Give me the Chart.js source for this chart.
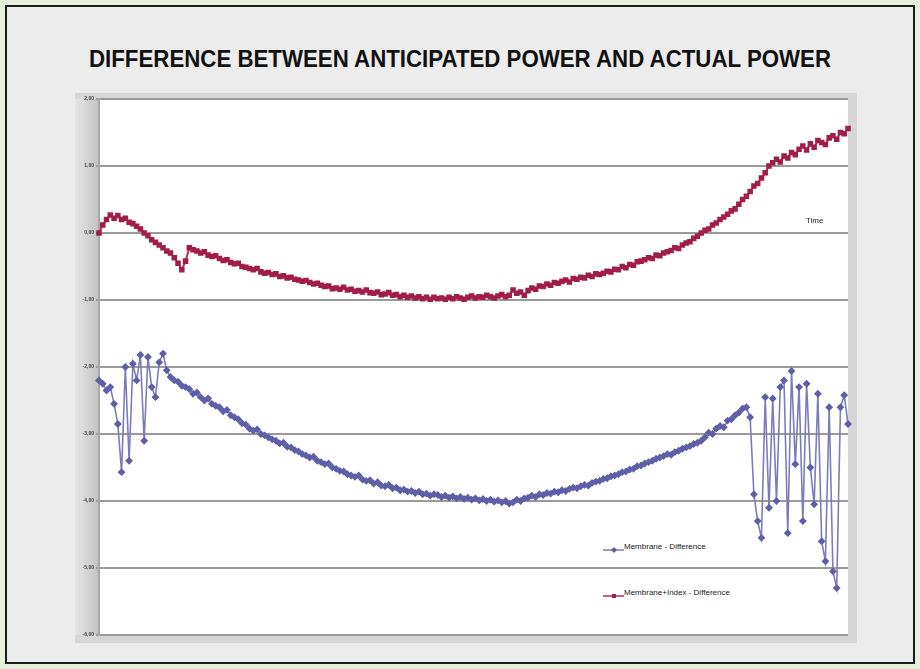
<!DOCTYPE html>
<html>
<head>
<meta charset="utf-8">
<script src="https://cdn.jsdelivr.net/npm/chart.js@4.4.1/dist/chart.umd.min.js"></script>
<style>
  html,body{margin:0;padding:0;background:#e6efd9;}
  #frame{position:absolute;left:5px;top:5px;width:906px;height:655px;border:2px solid #1c1c1c;background:#ececec;}
  #title{position:absolute;left:0;top:45px;width:920px;text-align:center;font-family:"Liberation Sans",Arial,sans-serif;font-weight:bold;font-size:24px;color:#111;white-space:nowrap;}
  #title span{display:inline-block;transform-origin:center;}
  #wrap{position:absolute;left:75px;top:93px;width:782px;height:550px;}
  .lbl{position:absolute;font-family:"Liberation Sans",Arial,sans-serif;font-size:8px;color:#222;white-space:nowrap;}
  .leg{position:absolute;font-family:"Liberation Sans",Arial,sans-serif;font-size:8px;color:#222;white-space:nowrap;background:#fff;padding-right:8px;}
  .sw{position:absolute;}
</style>
</head>
<body>
<div id="frame"></div>
<div id="title"><span id="tspan">DIFFERENCE BETWEEN ANTICIPATED POWER AND ACTUAL POWER</span></div>
<div id="wrap"><canvas id="c" width="782" height="550"></canvas></div>
<div class="lbl" style="left:806px;top:216px;">Time</div>
<canvas class="sw" id="sw1" width="22" height="8" style="left:603px;top:546px;"></canvas>
<div class="leg" style="left:624px;top:542px;">Membrane - Difference</div>
<canvas class="sw" id="sw2" width="22" height="8" style="left:603px;top:592px;"></canvas>
<div class="leg" style="left:624px;top:588px;">Membrane+Index - Difference</div>
<script>
const titleText = "DIFFERENCE BETWEEN ANTICIPATED POWER AND ACTUAL POWER";
const seriesNames = ["Membrane - Difference", "Membrane+Index - Difference"];
const yTickValues = [2, 1, 0, -1, -2, -3, -4, -5, -6];
const yTickLabels = ["2,00", "1,00", "0,00", "-1,00", "-2,00", "-3,00", "-4,00", "-5,00", "-6,00"];

const membraneIndex = [
 0.0,0.12,0.2,0.27,0.22,0.26,0.2,0.22,0.16,0.14,
 0.1,0.06,0.0,-0.04,-0.1,-0.14,-0.18,-0.22,-0.27,-0.3,
 -0.37,-0.45,-0.55,-0.42,-0.22,-0.25,-0.27,-0.3,-0.28,-0.33,
 -0.35,-0.34,-0.38,-0.41,-0.4,-0.44,-0.46,-0.45,-0.5,-0.51,
 -0.53,-0.55,-0.53,-0.58,-0.6,-0.59,-0.62,-0.61,-0.65,-0.64,
 -0.67,-0.66,-0.69,-0.7,-0.72,-0.71,-0.74,-0.76,-0.75,-0.78,
 -0.8,-0.79,-0.83,-0.82,-0.84,-0.81,-0.85,-0.84,-0.87,-0.86,
 -0.88,-0.85,-0.89,-0.9,-0.88,-0.92,-0.91,-0.89,-0.93,-0.92,
 -0.95,-0.93,-0.96,-0.94,-0.97,-0.95,-0.98,-0.96,-0.99,-0.96,
 -0.98,-0.97,-0.99,-0.96,-0.98,-0.95,-0.97,-0.99,-0.96,-0.94,
 -0.97,-0.95,-0.96,-0.93,-0.95,-0.97,-0.94,-0.92,-0.95,-0.93,
 -0.85,-0.9,-0.88,-0.93,-0.86,-0.82,-0.84,-0.79,-0.8,-0.76,
 -0.78,-0.74,-0.75,-0.72,-0.7,-0.73,-0.68,-0.69,-0.66,-0.67,
 -0.63,-0.65,-0.61,-0.62,-0.6,-0.57,-0.58,-0.54,-0.55,-0.5,
 -0.52,-0.47,-0.48,-0.43,-0.42,-0.4,-0.37,-0.38,-0.33,-0.34,
 -0.3,-0.28,-0.26,-0.22,-0.23,-0.18,-0.15,-0.13,-0.08,-0.05,
 0.0,0.04,0.06,0.12,0.15,0.2,0.24,0.28,0.33,0.36,
 0.43,0.5,0.55,0.62,0.7,0.74,0.82,0.9,1.0,1.05,
 1.1,1.06,1.15,1.12,1.2,1.17,1.25,1.3,1.24,1.33,
 1.28,1.38,1.35,1.32,1.42,1.45,1.4,1.5,1.48,1.56
];

const membrane = [
 -2.2,-2.25,-2.35,-2.3,-2.55,-2.85,-3.57,-2.0,-3.4,-1.95,
 -2.2,-1.82,-3.1,-1.85,-2.3,-2.45,-1.93,-1.8,-2.05,-2.15,
 -2.2,-2.22,-2.28,-2.3,-2.33,-2.4,-2.38,-2.45,-2.5,-2.47,
 -2.55,-2.58,-2.6,-2.66,-2.64,-2.72,-2.75,-2.78,-2.84,-2.86,
 -2.92,-2.95,-2.93,-3.0,-3.02,-3.05,-3.08,-3.1,-3.14,-3.13,
 -3.19,-3.2,-3.24,-3.26,-3.3,-3.32,-3.35,-3.34,-3.4,-3.42,
 -3.45,-3.44,-3.5,-3.52,-3.55,-3.56,-3.6,-3.62,-3.64,-3.62,
 -3.68,-3.7,-3.69,-3.74,-3.72,-3.77,-3.78,-3.76,-3.81,-3.8,
 -3.84,-3.83,-3.86,-3.85,-3.88,-3.86,-3.9,-3.89,-3.92,-3.9,
 -3.91,-3.94,-3.92,-3.95,-3.93,-3.96,-3.94,-3.97,-3.95,-3.98,
 -3.96,-3.99,-3.97,-4.0,-3.98,-4.01,-3.99,-4.02,-4.0,-4.04,
 -4.02,-3.98,-4.0,-3.96,-3.95,-3.92,-3.94,-3.9,-3.91,-3.88,
 -3.89,-3.86,-3.87,-3.84,-3.85,-3.82,-3.8,-3.81,-3.78,-3.76,
 -3.77,-3.73,-3.71,-3.7,-3.67,-3.66,-3.63,-3.62,-3.6,-3.57,
 -3.56,-3.53,-3.52,-3.48,-3.47,-3.44,-3.42,-3.4,-3.37,-3.35,
 -3.33,-3.3,-3.31,-3.27,-3.25,-3.22,-3.2,-3.18,-3.15,-3.13,
 -3.1,-3.05,-2.98,-3.0,-2.92,-2.88,-2.9,-2.8,-2.78,-2.72,
 -2.68,-2.62,-2.6,-2.75,-3.9,-4.3,-4.55,-2.45,-4.1,-2.47,
 -4.0,-2.3,-2.2,-4.48,-2.06,-3.45,-2.3,-4.3,-2.25,-3.5,
 -4.05,-2.4,-4.6,-4.9,-2.6,-5.05,-5.3,-2.6,-2.42,-2.85
];

const timeSteps = membrane.map((_, i) => i + 1);

const BLUE = '#5f5fa8';
const BLUE_LINE = '#7c7cbc';
const RED = '#a11d4c';
const RED_LINE = '#b22e5b';

// fit title
(function(){
  const s = document.getElementById('tspan');
  const w = s.getBoundingClientRect().width;
  s.style.transform = 'scaleX(' + (742 / w) + ')';
})();

const bgPlugin = {
  id: 'bg',
  beforeDraw(chart) {
    const ctx = chart.ctx, a = chart.chartArea;
    ctx.save();
    ctx.fillStyle = '#d6d6d6';
    ctx.fillRect(0, 0, chart.width, chart.height);
    const g = ctx.createLinearGradient(0, 0, a.left, 0);
    g.addColorStop(0, '#e6e6e6');
    g.addColorStop(1, '#c2c2c2');
    ctx.fillStyle = g;
    ctx.fillRect(0, a.top, a.left, a.bottom - a.top);
    ctx.fillStyle = '#ffffff';
    ctx.fillRect(a.left, a.top, a.right - a.left, a.bottom - a.top);
    ctx.restore();
  }
};

new Chart(document.getElementById('c'), {
  type: 'line',
  data: {
    labels: timeSteps,
    datasets: [
      {
        label: seriesNames[0],
        data: membrane,
        borderColor: BLUE_LINE,
        backgroundColor: BLUE,
        pointBackgroundColor: BLUE,
        pointBorderColor: BLUE,
        pointStyle: 'rectRot',
        pointRadius: 2.8,
        borderWidth: 1.6,
        tension: 0
      },
      {
        label: seriesNames[1],
        data: membraneIndex,
        borderColor: RED_LINE,
        backgroundColor: RED,
        pointBackgroundColor: RED,
        pointBorderColor: RED,
        pointStyle: 'rect',
        pointRadius: 2.5,
        borderWidth: 2,
        tension: 0
      }
    ]
  },
  options: {
    responsive: false,
    animation: false,
    layout: { padding: { top: 6, right: 9, bottom: 8, left: 0 } },
    plugins: { legend: { display: false }, tooltip: { enabled: false }, title: { display: false } },
    scales: {
      x: { display: false, offset: false },
      y: {
        min: -6, max: 2,
        afterBuildTicks(scale) { scale.ticks = yTickValues.map(v => ({ value: v })); },
        afterFit(scale) { scale.width = 24; },
        ticks: {
          font: { size: 5, family: 'Liberation Sans', weight: 'bold' },
          color: '#444',
          padding: 2,
          callback(v) { const k = yTickValues.indexOf(v); return k >= 0 ? yTickLabels[k] : ''; }
        },
        grid: { color: '#9a9a9a', lineWidth: 2, tickLength: 3, drawTicks: true },
        border: { color: '#a8a8a8', width: 2 }
      }
    }
  },
  plugins: [bgPlugin]
});

function swatch(id, lineCol, ptCol, shape) {
  const c = document.getElementById(id).getContext('2d');
  c.strokeStyle = lineCol; c.lineWidth = 1.5;
  c.beginPath(); c.moveTo(0, 4); c.lineTo(22, 4); c.stroke();
  c.fillStyle = ptCol;
  if (shape === 'diamond') {
    c.beginPath(); c.moveTo(11, 1); c.lineTo(14, 4); c.lineTo(11, 7); c.lineTo(8, 4); c.closePath(); c.fill();
  } else {
    c.fillRect(9, 2, 4, 4);
  }
}
swatch('sw1', BLUE_LINE, BLUE, 'diamond');
swatch('sw2', RED_LINE, RED, 'rect');
</script>
</body>
</html>
